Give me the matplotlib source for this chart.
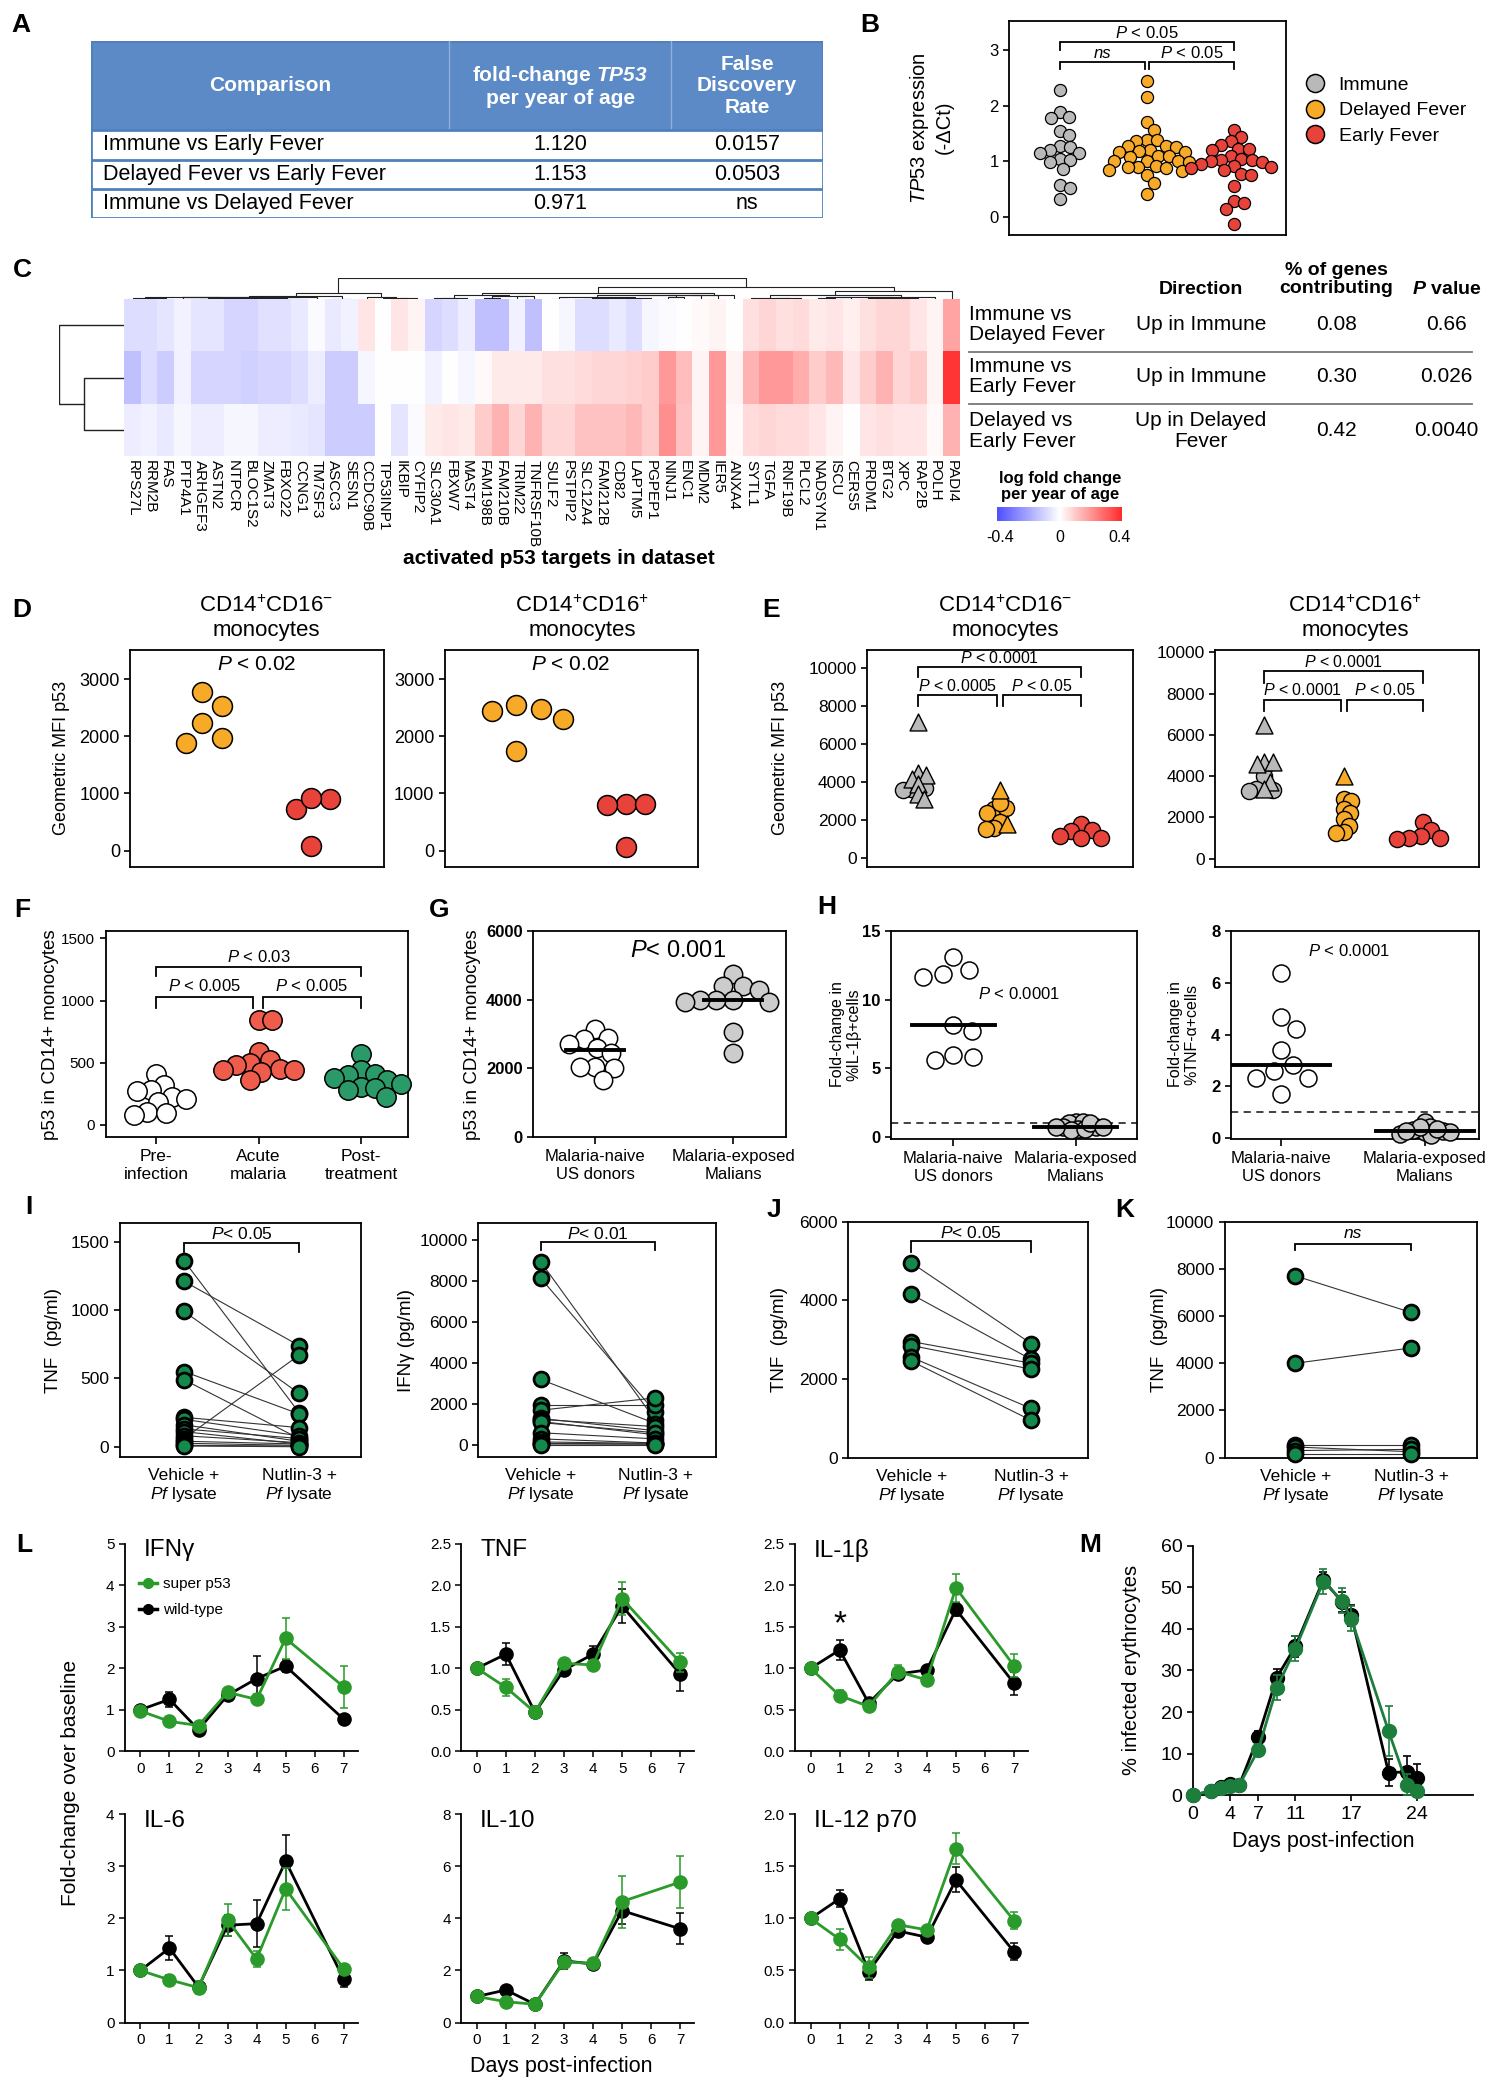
import numpy as np
import matplotlib
matplotlib.use("Agg")
import matplotlib.pyplot as plt
from matplotlib.colors import LinearSegmentedColormap, Normalize
from matplotlib.cm import ScalarMappable
from matplotlib.lines import Line2D
from matplotlib.patches import Rectangle

# ============================ DATA ============================
# Panel A
a_comparisons = ["Immune vs Early Fever", "Delayed Fever vs Early Fever", "Immune vs Delayed Fever"]
a_fold_change = ["1.120", "1.153", "0.971"]
a_fdr = ["0.0157", "0.0503", "ns"]

# Panel B (TP53 -dCt)
b_labels = ["Immune", "Delayed Fever", "Early Fever"]
b_immune = [2.28, 1.88, 1.80, 1.78, 1.55, 1.48, 1.27, 1.25, 1.20, 1.15, 1.15, 1.05, 1.02,
            0.98, 0.87, 0.58, 0.52, 0.33]
b_delayed = [2.45, 2.15, 1.70, 1.57, 1.38, 1.37, 1.38, 1.28, 1.27, 1.26, 1.20, 1.18, 1.17,
             1.16, 1.10, 1.09, 1.08, 1.01, 1.00, 1.00, 0.99, 0.91, 0.90, 0.89,
             0.88, 0.84, 0.83, 0.75, 0.62, 0.42]
b_early = [1.57, 1.43, 1.36, 1.30, 1.23, 1.22, 1.20, 1.10, 1.05, 1.03, 1.02, 1.00,
           0.98, 0.96, 0.92, 0.90, 0.88, 0.85, 0.78, 0.75, 0.55, 0.28, 0.25,
           0.15, -0.13]

# Panel C (heatmap)
c_genes = ["RPS27L", "RRM2B", "FAS", "PTP4A1", "ARHGEF3", "ASTN2", "NTPCR", "BLOC1S2", "ZMAT3", "FBXO22",
           "CCNG1", "TM7SF3", "ASCC3", "SESN1", "CCDC90B", "TP53INP1", "IKBIP", "CYFIP2", "SLC30A1", "FBXW7",
           "MAST4", "FAM198B", "FAM210B", "TRIM22", "TNFRSF10B", "SULF2", "PSTPIP2", "SLC12A4", "FAM212B", "CD82",
           "LAPTM5", "PGPEP1", "NINJ1", "ENC1", "MDM2", "IER5", "ANXA4", "SYTL1", "TGFA", "RNF19B",
           "PLCL2", "NADSYN1", "ISCU", "CERS5", "PRDM1", "BTG2", "XPC", "RAP2B", "POLH", "PADI4"]
c_imm_vs_del = [-0.08, -0.08, -0.06, -0.03, -0.06, -0.06, -0.10, -0.10, -0.07, -0.07,
                -0.05, -0.01, -0.05, -0.03, 0.05, 0.00, 0.05, 0.02, -0.10, -0.08,
                -0.04, -0.15, -0.15, -0.03, -0.15, 0.00, -0.02, -0.08, -0.08, -0.05,
                -0.08, -0.02, -0.01, 0.00, 0.01, 0.02, 0.00, 0.06, 0.08, 0.06,
                0.07, 0.04, 0.05, 0.03, 0.06, 0.08, 0.08, 0.05, 0.02, 0.18]
c_imm_vs_early = [-0.15, -0.08, -0.12, -0.03, -0.10, -0.10, -0.10, -0.11, -0.10, -0.10,
                  -0.08, -0.04, -0.12, -0.12, -0.02, 0.00, 0.00, 0.00, -0.03, 0.00,
                  -0.02, 0.01, 0.04, 0.04, 0.04, 0.06, 0.06, 0.07, 0.08, 0.08,
                  0.09, 0.10, 0.20, 0.13, 0.02, 0.20, 0.02, 0.15, 0.20, 0.20,
                  0.16, 0.10, 0.14, 0.05, 0.10, 0.15, 0.08, 0.10, 0.02, 0.40]
c_del_vs_early = [-0.04, -0.03, -0.05, -0.02, -0.04, -0.04, -0.02, -0.02, -0.04, -0.04,
                  -0.05, -0.06, -0.12, -0.12, -0.12, 0.00, -0.06, -0.01, 0.04, 0.05,
                  0.04, 0.10, 0.15, 0.08, 0.15, 0.08, 0.08, 0.12, 0.12, 0.12,
                  0.14, 0.10, 0.22, 0.12, 0.02, 0.20, 0.01, 0.07, 0.08, 0.07,
                  0.07, 0.05, 0.02, 0.00, 0.05, 0.06, 0.05, 0.05, 0.01, 0.15]
c_rows = ["Immune vs\nDelayed Fever", "Immune vs\nEarly Fever", "Delayed vs\nEarly Fever"]
c_direction = ["Up in Immune", "Up in Immune", "Up in Delayed\nFever"]
c_pct = ["0.08", "0.30", "0.42"]
c_pval = ["0.66", "0.026", "0.0040"]

# Panel D (Geometric MFI p53)
d1_delayed = [2780, 2530, 2230, 1890, 1970]
d1_early = [910, 730, 920, 80]
d2_delayed = [2550, 2450, 2480, 2300, 1740]
d2_early = [810, 800, 810, 60]

# Panel E (Geometric MFI p53, triangles flagged with 1)
e1_immune = [7200, 4500, 4400, 4200, 3900, 3400, 3150, 3700, 3650, 3600]
e1_immune_tri = [1, 1, 1, 1, 1, 1, 1, 0, 0, 0]
e1_delayed = [3600, 2600, 2650, 2900, 2400, 1900, 1800, 1600, 1550]
e1_delayed_tri = [1, 0, 0, 0, 0, 0, 1, 0, 0]
e1_early = [1800, 1500, 1450, 1200, 1100, 1050]
e2_immune = [6500, 4700, 4600, 4700, 3700, 3400, 4000, 3400, 3300, 3350]
e2_immune_tri = [1, 1, 1, 1, 1, 1, 0, 0, 0, 0]
e2_delayed = [4000, 2900, 2800, 2400, 2200, 1900, 1600, 1300, 1250]
e2_delayed_tri = [1, 0, 0, 0, 0, 0, 0, 0, 0]
e2_early = [1800, 1400, 1100, 1000, 1000, 950]

# Panel F
f_labels = ["Pre-\ninfection", "Acute\nmalaria", "Post-\ntreatment"]
f_pre = [410, 320, 280, 275, 225, 210, 180, 105, 90, 80]
f_acute = [840, 840, 585, 520, 495, 478, 445, 440, 437, 425, 357]
f_post = [571, 437, 410, 397, 375, 360, 330, 303, 295, 276, 222]

# Panel G
g_labels = ["Malaria-naive\nUS donors", "Malaria-exposed\nMalians"]
g_naive = [3150, 2900, 2850, 2700, 2600, 2450, 2050, 2000, 2050, 1650]
g_exposed = [4750, 4400, 4400, 4300, 4000, 4000, 4000, 3950, 3950, 3050, 2450]

# Panel H
h1_naive = [13.1, 12.2, 11.9, 11.7, 8.2, 7.7, 6.0, 5.8, 5.6]
h1_exposed = [1.1, 1.0, 1.1, 0.7, 0.7, 0.6, 0.5, 0.6, 1.0, 0.7, 0.7]
h2_naive = [6.4, 4.7, 4.2, 3.4, 2.8, 2.6, 2.3, 2.3, 1.7]
h2_exposed = [0.6, 0.4, 0.25, 0.2, 0.15, 0.1, 0.2, 0.3, 0.35, 0.4, 0.25]

# Panel I / J / K (paired)
ijk_labels = ["Vehicle +\n$Pf$ lysate", "Nutlin-3 +\n$Pf$ lysate"]
i1_vehicle = [1360, 1210, 990, 550, 490, 215, 200, 160, 130, 110, 80, 60, 40, 25, 10, 5]
i1_nutlin = [250, 740, 390, 240, 60, 140, 80, 40, 60, 20, 30, 670, 20, 10, 5, 0]
i2_vehicle = [8950, 8150, 3200, 1950, 1700, 1300, 1250, 1150, 1100, 600, 300, 150, 80, 50, 20]
i2_nutlin = [1200, 1600, 1050, 1950, 2300, 700, 900, 500, 600, 300, 100, 80, 50, 40, 20]
j_vehicle = [4950, 4150, 2950, 2850, 2550, 2450]
j_nutlin = [2900, 2500, 2400, 2250, 1250, 950]
k_vehicle = [7700, 4000, 550, 450, 300, 150]
k_nutlin = [6150, 4650, 550, 250, 350, 150]

# Panel L (fold change over baseline)
l_days = [0, 1, 2, 3, 4, 5, 7]
l_names = ["IFNγ", "TNF", "IL-1β", "IL-6", "IL-10", "IL-12 p70"]
l_ymax = [5, 2.5, 2.5, 4, 8, 2.0]
l_ystep = [1, 0.5, 0.5, 1, 2, 0.5]
ifng_wt = [1.00, 1.25, 0.52, 1.35, 1.75, 2.05, 0.77]
ifng_wt_err = [0.05, 0.18, 0.07, 0.08, 0.55, 0.15, 0.05]
ifng_sp = [0.97, 0.72, 0.62, 1.42, 1.25, 2.72, 1.55]
ifng_sp_err = [0.05, 0.08, 0.05, 0.08, 0.12, 0.50, 0.50]
tnf_wt = [1.00, 1.17, 0.47, 0.98, 1.17, 1.75, 0.93]
tnf_wt_err = [0.03, 0.13, 0.07, 0.06, 0.10, 0.20, 0.20]
tnf_sp = [1.00, 0.77, 0.47, 1.06, 1.04, 1.84, 1.07]
tnf_sp_err = [0.03, 0.10, 0.07, 0.05, 0.05, 0.20, 0.12]
il1b_wt = [1.00, 1.22, 0.58, 0.93, 0.98, 1.71, 0.82]
il1b_wt_err = [0.03, 0.12, 0.05, 0.06, 0.05, 0.08, 0.14]
il1b_sp = [1.00, 0.67, 0.54, 0.96, 0.86, 1.97, 1.03]
il1b_sp_err = [0.03, 0.07, 0.05, 0.08, 0.05, 0.17, 0.14]
il6_wt = [1.00, 1.43, 0.68, 1.87, 1.90, 3.10, 0.83]
il6_wt_err = [0.03, 0.23, 0.10, 0.20, 0.45, 0.50, 0.15]
il6_sp = [1.00, 0.82, 0.67, 1.97, 1.22, 2.57, 1.03]
il6_sp_err = [0.05, 0.10, 0.12, 0.30, 0.15, 0.40, 0.05]
il10_wt = [1.00, 1.25, 0.70, 2.37, 2.25, 4.30, 3.60]
il10_wt_err = [0.10, 0.15, 0.10, 0.30, 0.20, 0.50, 0.60]
il10_sp = [1.00, 0.80, 0.70, 2.33, 2.27, 4.65, 5.40]
il10_sp_err = [0.10, 0.10, 0.10, 0.20, 0.15, 1.00, 1.00]
il12_wt = [1.00, 1.19, 0.49, 0.88, 0.82, 1.37, 0.68]
il12_wt_err = [0.03, 0.08, 0.08, 0.04, 0.04, 0.12, 0.08]
il12_sp = [1.00, 0.80, 0.53, 0.94, 0.89, 1.67, 0.98]
il12_sp_err = [0.03, 0.10, 0.10, 0.03, 0.03, 0.15, 0.08]

# Panel M (% infected erythrocytes)
m_days = [0, 2, 3, 4, 5, 7, 9, 11, 14, 16, 17, 21, 23, 24]
m_wt = [0, 1.0, 2.0, 2.7, 2.5, 13.9, 28.3, 35.8, 51.8, 46.5, 43.3, 5.4, 5.6, 4.1]
m_wt_err = [0, 0.3, 0.3, 0.3, 0.3, 1.5, 2.0, 2.5, 2.0, 2.5, 2.5, 3.3, 3.8, 3.5]
m_sp = [0, 1.0, 1.8, 2.3, 2.5, 10.8, 25.8, 35.2, 51.4, 46.8, 42.4, 15.4, 2.5, 1.0]
m_sp_err = [0, 0.3, 0.3, 0.3, 0.3, 1.5, 3.0, 3.0, 3.0, 3.0, 3.0, 6.0, 2.5, 0.5]
m_xticks = [0, 4, 7, 11, 17, 24]

# ============================ STYLE ============================
SANS = "Liberation Sans"
plt.rcParams["font.family"] = [SANS, "DejaVu Sans"]
plt.rcParams["mathtext.fontset"] = "custom"
plt.rcParams["mathtext.rm"] = SANS
plt.rcParams["mathtext.it"] = SANS + ":italic"
plt.rcParams["mathtext.bf"] = SANS + ":bold"
HAS_BFIT = "mathtext.bfit" in plt.rcParams
if HAS_BFIT:
    plt.rcParams["mathtext.bfit"] = SANS + ":italic:bold"
BFIT = r"\mathbfit" if HAS_BFIT else r"\mathit"

W, H = 1128.0, 1568.0
fig = plt.figure(figsize=(15, 20.85), dpi=100)

GREY = "#b9b9b9"
ORANGE = "#f7a928"
RED = "#e8433a"
TBL_BLUE = "#5b8ac6"
GREEN_I = "#14894c"
GREEN_L = "#2a9a2a"
GREEN_M = "#1c7d3c"


def rect(x0, y0, x1, y1):
    return [x0 / W, 1 - y1 / H, (x1 - x0) / W, (y1 - y0) / H]


def ftext(x, y, s, **kw):
    return fig.text(x / W, 1 - y / H, s, **kw)


def letter(x, y, s):
    ftext(x, y, s, fontsize=19, fontweight="bold", ha="center", va="center")


def ylab(x, y, s, fs=13, **kw):
    ftext(x, y, s, fontsize=fs, rotation=90, ha="center", va="center", **kw)


def swarm(ax, values, diam_px, overlap=1.0):
    v = np.asarray(values, float)
    ys = ax.transData.transform(np.column_stack([np.zeros_like(v), v]))[:, 1]
    d = diam_px * overlap
    order = np.argsort(-ys, kind="stable")
    px_l, py_l = [], []
    xs = np.zeros(len(v))
    for i in order:
        y = ys[i]
        cands = [0.0]
        for px, py in zip(px_l, py_l):
            dy = abs(py - y)
            if dy < d:
                dx = np.sqrt(d * d - dy * dy)
                cands.extend([px + dx, px - dx])
        cands.sort(key=lambda c: (round(abs(c), 3), -c))
        for c in cands:
            if all((c - px) ** 2 + (y - py) ** 2 >= d * d - 1e-3 for px, py in zip(px_l, py_l)):
                xs[i] = c
                px_l.append(c)
                py_l.append(y)
                break
    x0 = ax.transData.transform((0, 0))[0]
    x1 = ax.transData.transform((1, 0))[0]
    return xs / (x1 - x0)


def dotgroup(ax, gi, vals, color, s, overlap=1.0, lw=1.0, markers=None, z=3):
    dpx = np.sqrt(s) * 100 / 72
    off = swarm(ax, vals, dpx, overlap)
    vals = np.asarray(vals, float)
    if markers is None:
        markers = [0] * len(vals)
    markers = np.asarray(markers)
    for flag, mk in ((0, "o"), (1, "^")):
        sel = markers == flag
        if sel.any():
            ax.scatter(gi + off[sel], vals[sel], s=s * (1.1 if mk == "^" else 1.0), marker=mk,
                       c=color, edgecolors="black", linewidths=lw, zorder=z + flag, clip_on=False)


def bracket(ax, x0, x1, y, drop, text=None, ty=None, fs=12, style="normal", lw=1.3):
    ax.plot([x0, x0, x1, x1], [y - drop, y, y, y - drop], color="black", lw=lw,
            clip_on=False, solid_joinstyle="miter")
    if text is not None:
        ax.text((x0 + x1) / 2, ty, text, ha="center", va="center", fontsize=fs, fontstyle=style)


def boxstyle(ax, fs=12, bold=False, lw=1.3):
    for sp in ax.spines.values():
        sp.set_linewidth(lw)
    ax.tick_params(axis="both", direction="out", length=4, width=1.2, labelsize=fs)
    if bold:
        for t in ax.get_yticklabels():
            t.set_fontweight("bold")


# ============================ PANEL A ============================
letter(16, 19, "A")
axA = fig.add_axes(rect(68.5, 31, 619, 164))
TW, TH = 550.5, 133.0
axA.set_xlim(0, TW)
axA.set_ylim(TH, 0)
axA.axis("off")
hdr_h = 67.0
row_edges = [hdr_h, hdr_h + 22, hdr_h + 44, TH]
axA.add_patch(Rectangle((0, 0), TW, hdr_h, facecolor=TBL_BLUE, edgecolor="none"))
col_div = [269.5, 436.0]
for cx in col_div:
    axA.plot([cx, cx], [0, hdr_h], color="#8fb0dc", lw=1.0)
for ry in row_edges[:-1]:
    axA.plot([0, TW], [ry, ry], color="#4f81bd", lw=2.0)
axA.add_patch(Rectangle((0, 0), TW, TH, fill=False, edgecolor="#4f81bd", lw=2.0))
col_centers = [col_div[0] / 2, (col_div[0] + col_div[1]) / 2, (col_div[1] + TW) / 2]
hdrs = ["Comparison", "fold-change $" + BFIT + "{TP53}$\nper year of age", "False\nDiscovery\nRate"]
for cx, txt in zip(col_centers, hdrs):
    axA.text(cx, hdr_h / 2, txt, ha="center", va="center", color="white", fontsize=15,
             fontweight="bold", linespacing=1.15)
for i in range(3):
    yc = (row_edges[i] + row_edges[i + 1]) / 2
    axA.text(9, yc, a_comparisons[i], ha="left", va="center", fontsize=15.5)
    axA.text(col_centers[1], yc, a_fold_change[i], ha="center", va="center", fontsize=15.5)
    axA.text(col_centers[2], yc, a_fdr[i], ha="center", va="center", fontsize=15.5)

# ============================ PANEL B ============================
letter(654, 19, "B")
axB = fig.add_axes(rect(759, 15.5, 967, 177))
axB.set_xlim(-0.58, 2.6)
axB.set_ylim(-0.33, 3.53)
axB.set_xticks([])
axB.set_yticks([0, 1, 2, 3])
boxstyle(axB, fs=12)
for gi, (vals, col) in enumerate(zip([b_immune, b_delayed, b_early], [GREY, ORANGE, RED])):
    dotgroup(axB, gi, vals, col, s=76, lw=0.9, overlap=0.86)
bracket(axB, 0, 2, 3.14, 0.14, "$P$ < 0.05", 3.3, fs=12)
bracket(axB, 0, 0.98, 2.79, 0.13, "ns", 2.94, fs=12, style="italic")
bracket(axB, 1.03, 2, 2.79, 0.13, "$P$ < 0.05", 2.94, fs=12)
ylab(700, 96, "$\\mathit{TP53}$ expression\n(-ΔCt)", fs=14.5, linespacing=1.2)
handles = [Line2D([], [], ls="", marker="o", ms=13, mfc=c, mec="black", mew=1.1)
           for c in [GREY, ORANGE, RED]]
axB.legend(handles, b_labels, loc="upper left", bbox_to_anchor=(1.05, 0.76), frameon=False,
           fontsize=14, handletextpad=0.6, labelspacing=0.42, handlelength=1.2, borderaxespad=0,
           borderpad=0.2)

# ============================ PANEL C ============================
letter(17, 203, "C")
hm = np.array([c_imm_vs_del, c_imm_vs_early, c_del_vs_early])
cmap = LinearSegmentedColormap.from_list("bwr_c", ["#5050ff", "#ffffff", "#ff2a2a"])
norm = Normalize(-0.42, 0.42)
axC = fig.add_axes(rect(93.5, 225, 722, 343))
axC.imshow(hm, aspect="auto", cmap=cmap, norm=norm, interpolation="nearest")
axC.set_xticks(np.arange(len(c_genes)))
axC.set_xticklabels(c_genes, rotation=270, fontsize=11, va="top", ha="center")
axC.set_yticks([])
axC.tick_params(length=0, pad=3)
for sp in axC.spines.values():
    sp.set_visible(False)


def adjacent_ward(data):
    cl = [dict(pos=float(i), h=0.0, mean=np.asarray(data[i], float), n=1) for i in range(len(data))]
    links = []
    while len(cl) > 1:
        best = None
        for k in range(len(cl) - 1):
            a, b = cl[k], cl[k + 1]
            d = np.sqrt(2.0 * a["n"] * b["n"] / (a["n"] + b["n"])) * np.linalg.norm(a["mean"] - b["mean"])
            if best is None or d < best[0]:
                best = (d, k)
        d, k = best
        a, b = cl[k], cl[k + 1]
        h = max(d, a["h"], b["h"]) + 1e-9
        links.append((a["pos"], a["h"], b["pos"], b["h"], h))
        n = a["n"] + b["n"]
        cl[k:k + 2] = [dict(pos=(a["pos"] + b["pos"]) / 2, h=h,
                            mean=(a["mean"] * a["n"] + b["mean"] * b["n"]) / n, n=n)]
    return links


col_links = adjacent_ward(hm.T)
axDT = fig.add_axes(rect(93.5, 209, 722, 225))
hmax = max(l[4] for l in col_links)
for xa, ha, xb, hb, hh in col_links:
    axDT.plot([xa, xa, xb, xb], [ha, hh, hh, hb], color="#222222", lw=0.8)
axDT.set_xlim(-0.5, len(c_genes) - 0.5)
axDT.set_ylim(0, hmax * 1.02)
axDT.axis("off")

row_links = adjacent_ward(hm)
axDL = fig.add_axes(rect(44, 225, 93.5, 343))
rmax = max(l[4] for l in row_links)
for ya, ha, yb, hb, hh in row_links:
    axDL.plot([ha, hh, hh, hb], [ya, ya, yb, yb], color="#222222", lw=1.0)
axDL.set_ylim(2.5, -0.5)
axDL.set_xlim(rmax * 1.0, 0)
axDL.axis("off")

row_y = [244, 283, 324]
for ry, lab, dr, pc, pv in zip(row_y, c_rows, c_direction, c_pct, c_pval):
    ftext(729, ry, lab, fontsize=15, ha="left", va="center", linespacing=1.1)
    ftext(903, ry, dr, fontsize=15, ha="center", va="center", linespacing=1.1)
    ftext(1005, ry, pc, fontsize=15, ha="center", va="center")
    ftext(1088, ry, pv, fontsize=15, ha="center", va="center")
for sy in [264.5, 304]:
    fig.add_artist(Line2D([729 / W, 1107 / W], [1 - sy / H, 1 - sy / H], color="#777777", lw=1.3))
ftext(903, 218, "Direction", fontsize=14, fontweight="bold", ha="center", va="center")
ftext(1005, 210, "% of genes\ncontributing", fontsize=14, fontweight="bold", ha="center",
      va="center", linespacing=1.05)
ftext(1088, 218, "$" + BFIT + "{P}$ value", fontsize=14, fontweight="bold", ha="center", va="center")
ftext(420, 420, "activated p53 targets in dataset", fontsize=15, fontweight="bold", ha="center",
      va="center")
cax = fig.add_axes(rect(750, 381, 844, 392))
cb = fig.colorbar(ScalarMappable(norm=norm, cmap=cmap), cax=cax, orientation="horizontal",
                  ticks=[-0.4, 0, 0.4])
cb.outline.set_visible(False)
cax.set_xticklabels(["-0.4", "0", "0.4"])
cax.tick_params(length=0, labelsize=11.5, pad=6)
ftext(797, 366, "log fold change\nper year of age", fontsize=12, fontweight="bold", ha="center",
      va="center", linespacing=1.1)

# ============================ PANEL D ============================
letter(16, 459, "D")
d_title = "CD14$^{+}$CD16$^{-}$\nmonocytes"
d_title2 = "CD14$^{+}$CD16$^{+}$\nmonocytes"
for (x0, x1, tx, title, dl, el) in [(98, 288.5, 200, d_title, d1_delayed, d1_early),
                                    (334.5, 525, 438, d_title2, d2_delayed, d2_early)]:
    ax = fig.add_axes(rect(x0, 489, x1, 652))
    ax.set_xlim(-0.65, 1.66)
    ax.set_ylim(-285, 3505)
    ax.set_xticks([])
    ax.set_yticks([0, 1000, 2000, 3000])
    boxstyle(ax, fs=13)
    dotgroup(ax, 0, dl, ORANGE, s=205, overlap=1.25, lw=1.1)
    dotgroup(ax, 1, el, RED, s=205, overlap=0.95, lw=1.1)
    ax.text(0.5, 3250, "$P$ < 0.02", ha="center", va="center", fontsize=15)
    ftext(tx, 465, title, fontsize=16, ha="center", va="center", linespacing=1.15)
ylab(46, 570, "Geometric MFI p53", fs=13)

# ============================ PANEL E ============================
letter(580, 459, "E")
e_specs = [(652, 852, 756, d_title, (-0.62, 2.63), (-450, 10950),
            e1_immune, e1_immune_tri, e1_delayed, e1_delayed_tri, e1_early,
            [(10088, 548, 10566), (8620, 620, 9062)], ["$P$ < 0.0001", "$P$ < 0.0005", "$P$ < 0.05"]),
           (914, 1112, 1019, d_title2, (-0.62, 2.71), (-400, 10100),
            e2_immune, e2_immune_tri, e2_delayed, e2_delayed_tri, e2_early,
            [(9088, 576, 9520), (7712, 544, 8160)], ["$P$ < 0.0001", "$P$ < 0.0001", "$P$ < 0.05"])]
for (x0, x1, tx, title, xl, yl, im, imt, dl, dlt, el, br, btxt) in e_specs:
    ax = fig.add_axes(rect(x0, 489, x1, 652))
    ax.set_xlim(*xl)
    ax.set_ylim(*yl)
    ax.set_xticks([])
    ax.set_yticks([0, 2000, 4000, 6000, 8000, 10000])
    boxstyle(ax, fs=12.5)
    dotgroup(ax, 0, im, GREY, s=135, overlap=0.5, lw=1.0, markers=imt)
    dotgroup(ax, 1, dl, ORANGE, s=135, overlap=0.5, lw=1.0, markers=dlt)
    dotgroup(ax, 2, el, RED, s=135, overlap=0.75, lw=1.0)
    (y1, dr1, t1), (y2, dr2, t2) = br
    bracket(ax, 0, 2, y1, dr1, btxt[0], t1, fs=11.5)
    bracket(ax, 0, 0.97, y2, dr2, btxt[1], t2, fs=11.5)
    bracket(ax, 1.04, 2, y2, dr2, btxt[2], t2, fs=11.5)
    ftext(tx, 465, title, fontsize=16, ha="center", va="center", linespacing=1.15)
ylab(587, 570, "Geometric MFI p53", fs=13)

# ============================ PANEL F ============================
letter(17, 684, "F")
axF = fig.add_axes(rect(79.5, 700, 307, 855))
axF.set_xlim(-0.49, 2.46)
axF.set_ylim(-99, 1562)
axF.set_xticks([0, 1, 2])
axF.set_xticklabels(f_labels, fontsize=12, linespacing=1.3)
axF.set_yticks([0, 500, 1000, 1500])
boxstyle(axF, fs=11)
axF.tick_params(axis="x", labelsize=12.5, length=5)
for gi, (vals, col) in enumerate(zip([f_pre, f_acute, f_post], ["white", "#ef5c4b", "#2a9a68"])):
    dotgroup(axF, gi, vals, col, s=195, overlap=0.72, lw=1.1)
bracket(axF, 0, 2, 1272, 72, "$P$ < 0.03", 1347, fs=12)
bracket(axF, 0, 0.95, 1027, 86, "$P$ < 0.005", 1115, fs=12)
bracket(axF, 1.04, 2, 1027, 86, "$P$ < 0.005", 1115, fs=12)
ylab(38, 778, "p53 in CD14+ monocytes", fs=13.5)

# ============================ PANEL G ============================
letter(330, 684, "G")
axG = fig.add_axes(rect(401, 700.5, 591, 855))
axG.set_xlim(-0.45, 1.38)
axG.set_ylim(0, 6000)
axG.set_xticks([0, 1])
axG.set_xticklabels(g_labels, fontsize=12.5, linespacing=1.3)
axG.set_yticks([0, 2000, 4000, 6000])
boxstyle(axG, fs=12, bold=True)
axG.tick_params(axis="x", length=5)
for gi, (vals, col) in enumerate(zip([g_naive, g_exposed], ["white", "#cccccc"])):
    dotgroup(axG, gi, vals, col, s=175, overlap=0.85, lw=1.1)
    med = np.median(vals)
    axG.plot([gi - 0.21, gi + 0.21], [med, med], color="black", lw=2.8, zorder=6)
axG.text(0.6, 5430, "$P$< 0.001", ha="center", va="center", fontsize=17)
ylab(355, 778, "p53 in CD14+ monocytes", fs=13.5)

# ============================ PANEL H ============================
letter(622, 682, "H")
h_specs = [(670, 855, (-0.51, 1.5), (-0.15, 15), [0, 5, 10, 15], h1_naive, h1_exposed, (0.54, 10.4),
            "Fold-change in\n%IL-1β+cells", (636, 778)),
           (925.5, 1112, (-0.35, 1.375), (-0.05, 8), [0, 2, 4, 6, 8], h2_naive, h2_exposed, (0.47, 7.26),
            "Fold-change in\n%TNF-α+cells", (890, 778))]
for (x0, x1, xl, yl, yt, nv, ex, ptxt, ylabel_txt, ylpos) in h_specs:
    ax = fig.add_axes(rect(x0, 700.5, x1, 856.5))
    ax.set_xlim(*xl)
    ax.set_ylim(*yl)
    ax.set_xticks([0, 1])
    ax.set_xticklabels(g_labels, fontsize=12.5, linespacing=1.3)
    ax.set_yticks(yt)
    boxstyle(ax, fs=12, bold=True)
    ax.tick_params(axis="x", length=5)
    ax.axhline(1.0, color="#333333", lw=1.3, ls=(0, (4, 3)), zorder=2)
    for gi, (vals, col, ov) in enumerate(zip([nv, ex], ["white", "#c8c8c8"], [1.15, 0.42])):
        dotgroup(ax, gi, vals, col, s=150, overlap=ov, lw=1.1)
        med = np.median(vals)
        ax.plot([gi - 0.34, gi + 0.34], [med, med], color="black", lw=2.8, zorder=6)
    ax.text(ptxt[0], ptxt[1], "$P$ < 0.0001", ha="center", va="center", fontsize=12)
    ylab(ylpos[0], ylpos[1], ylabel_txt, fs=11.5, linespacing=1.15)

# ============================ PANELS I, J, K ============================
letter(22, 908, "I")
letter(582, 910, "J")
letter(846, 910, "K")
ijk_specs = [(90, 271.6, 920, 1095.5, (-0.56, 1.54), (-73, 1634), [0, 500, 1000, 1500],
              i1_vehicle, i1_nutlin, (1493, 66, "$P$< 0.05", 1553, "normal"), "TNF  (pg/ml)", 40),
             (359.8, 538.7, 920, 1095.5, (-0.54, 1.53), (-569, 10813), [0, 2000, 4000, 6000, 8000, 10000],
              i2_vehicle, i2_nutlin, (9919, 420, "$P$< 0.01", 10276, "normal"), "IFNγ (pg/ml)", 306),
             (637.8, 818.5, 918.7, 1096.2, (-0.53, 1.48), (0, 6000), [0, 2000, 4000, 6000],
              j_vehicle, j_nutlin, (5515, 281, "$P$< 0.05", 5719, "normal"), "TNF  (pg/ml)", 586),
             (921, 1111, 918.7, 1096.2, (-0.61, 1.57), (0, 10000), [0, 2000, 4000, 6000, 8000, 10000],
              k_vehicle, k_nutlin, (9057, 271, "ns", 9486, "italic"), "TNF  (pg/ml)", 872)]
for (x0, x1, y0, y1, xl, yl, yt, veh, nut, br, ylabel_txt, ylx) in ijk_specs:
    ax = fig.add_axes(rect(x0, y0, x1, y1))
    ax.set_xlim(*xl)
    ax.set_ylim(*yl)
    ax.set_xticks([0, 1])
    ax.set_xticklabels(ijk_labels, fontsize=13.5, linespacing=1.15)
    ax.set_yticks(yt)
    boxstyle(ax, fs=12.5)
    ax.tick_params(axis="x", length=0, pad=8)
    for v, n in zip(veh, nut):
        ax.plot([0, 1], [v, n], color="#333333", lw=0.8, zorder=2)
    ax.scatter(np.zeros(len(veh)), veh, s=115, c=GREEN_I, edgecolors="black", linewidths=2.0,
               zorder=3, clip_on=False)
    ax.scatter(np.ones(len(nut)), nut, s=115, c=GREEN_I, edgecolors="black", linewidths=2.0,
               zorder=3, clip_on=False)
    by, bd, bt, bty, bst = br
    bracket(ax, 0, 1, by, bd, bt, bty, fs=12.5, style=bst)
    ylab(ylx, (y0 + y1) / 2, ylabel_txt, fs=13.5)

# ============================ PANEL L ============================
letter(18.5, 1162, "L")
l_wt = [ifng_wt, tnf_wt, il1b_wt, il6_wt, il10_wt, il12_wt]
l_wt_err = [ifng_wt_err, tnf_wt_err, il1b_wt_err, il6_wt_err, il10_wt_err, il12_wt_err]
l_sp = [ifng_sp, tnf_sp, il1b_sp, il6_sp, il10_sp, il12_sp]
l_sp_err = [ifng_sp_err, tnf_sp_err, il1b_sp_err, il6_sp_err, il10_sp_err, il12_sp_err]
l_cols = [(94, 269), (347, 522), (598, 773)]
l_rows = [(1161, 1317), (1364.5, 1521)]
for k in range(6):
    cx0, cx1 = l_cols[k % 3]
    ry0, ry1 = l_rows[k // 3]
    ax = fig.add_axes(rect(cx0, ry0, cx1, ry1))
    ax.set_xlim(-0.53, 7.48)
    ax.set_ylim(0, l_ymax[k])
    ax.set_xticks(range(8))
    yt = np.arange(0, l_ymax[k] + 1e-9, l_ystep[k])
    ax.set_yticks(yt)
    if l_ystep[k] < 1:
        ax.set_yticklabels(["%.1f" % t for t in yt])
    else:
        ax.set_yticklabels(["%d" % t for t in yt])
    for side in ["top", "right"]:
        ax.spines[side].set_visible(False)
    for side in ["left", "bottom"]:
        ax.spines[side].set_linewidth(1.3)
    ax.tick_params(direction="out", length=4, width=1.1, labelsize=11)
    ax.errorbar(l_days, l_wt[k], yerr=l_wt_err[k], color="black", lw=2.0, marker="o", ms=9.5,
                capsize=3, elinewidth=1.1, capthick=1.1, zorder=3, clip_on=False, label="wild-type")
    ax.errorbar(l_days, l_sp[k], yerr=l_sp_err[k], color=GREEN_L, lw=2.0, marker="o", ms=9.5,
                capsize=3, elinewidth=1.1, capthick=1.1, zorder=4, clip_on=False, label="super p53")
    ax.text(0.08, 0.97, l_names[k], transform=ax.transAxes, ha="left", va="center", fontsize=17.5)
    if k == 0:
        hl = [Line2D([], [], color=GREEN_L, lw=2.5, marker="o", ms=7),
              Line2D([], [], color="black", lw=2.5, marker="o", ms=7)]
        ax.legend(hl, ["super p53", "wild-type"], loc="upper left", bbox_to_anchor=(0.06, 0.84),
                  frameon=False, fontsize=11, handlelength=1.2, handletextpad=0.4, labelspacing=0.8,
                  borderaxespad=0, borderpad=0)
    if k == 2:
        ax.text(1, 1.53, "*", ha="center", va="center", fontsize=24)
ylab(53, 1341, "Fold-change over baseline", fs=15)
ftext(422, 1554, "Days post-infection", fontsize=15.5, ha="center", va="center")

# ============================ PANEL M ============================
letter(820, 1162, "M")
axM = fig.add_axes(rect(897, 1162.5, 1108, 1350))
axM.set_xlim(0, 30.1)
axM.set_ylim(0, 60)
axM.set_xticks(m_xticks)
axM.set_yticks(range(0, 61, 10))
for side in ["top", "right"]:
    axM.spines[side].set_visible(False)
for side in ["left", "bottom"]:
    axM.spines[side].set_linewidth(1.3)
axM.tick_params(direction="out", length=4, width=1.2, labelsize=14)
axM.errorbar(m_days, m_wt, yerr=m_wt_err, color="black", lw=2.0, marker="o", ms=10, capsize=3,
             elinewidth=1.2, capthick=1.2, zorder=3, clip_on=False)
axM.errorbar(m_days, m_sp, yerr=m_sp_err, color=GREEN_M, lw=2.0, marker="o", ms=10, capsize=3,
             elinewidth=1.2, capthick=1.2, zorder=4, clip_on=False)
ylab(851, 1256, "% infected erythrocytes", fs=14.5)
ftext(995, 1385, "Days post-infection", fontsize=15.5, ha="center", va="center")

fig.savefig("out.png", dpi=100)
